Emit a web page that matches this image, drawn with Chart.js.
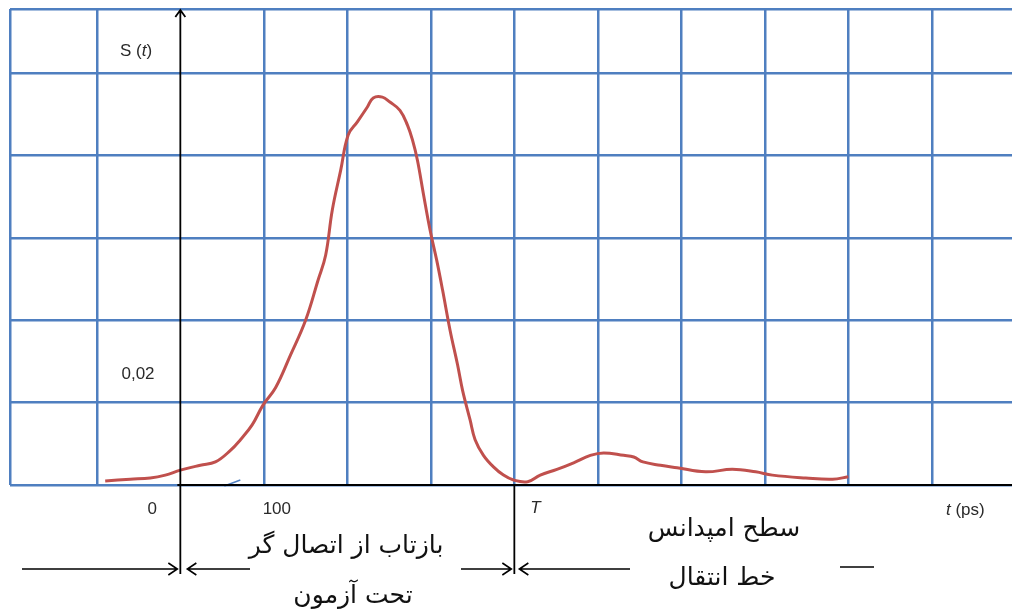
<!DOCTYPE html>
<html>
<head>
<meta charset="utf-8">
<script src="https://cdn.jsdelivr.net/npm/chart.js@4/dist/chart.umd.min.js"></script>
<style>
  html, body { margin: 0; padding: 0; background: #fff; }
  #wrap { width: 1012px; height: 612px; }
</style>
</head>
<body>
<div id="wrap"><canvas id="tdr" width="1012" height="612"></canvas></div>
<script>
// reflected signal S(t), t in ps
const timePs = [-90, -60, -36, -18, 0, 24, 42, 60, 72, 86, 99, 114, 132, 150, 165, 174, 182, 192,
  201, 212, 224, 231, 242, 251, 263, 272, 278, 284, 291, 299, 307, 314, 323, 332, 338, 347, 353,
  363, 375, 387, 399, 416, 431, 451, 471, 491, 507, 531, 543, 554, 575, 595, 629, 661, 689, 709,
  749, 781, 800];
const signal = [0.0005, 0.0007, 0.00085, 0.0012, 0.0018, 0.0024, 0.0028, 0.0042, 0.0055, 0.0073,
  0.0097, 0.0118, 0.0158, 0.0200, 0.0249, 0.0279, 0.0334, 0.0382, 0.0425, 0.0441, 0.0459, 0.0470,
  0.0471, 0.0465, 0.0455, 0.0437, 0.0419, 0.0394, 0.0354, 0.0310, 0.0273, 0.0237, 0.0188, 0.0146,
  0.0115, 0.0079, 0.0055, 0.0036, 0.0022, 0.0012, 0.0006, 0.0004, 0.0012, 0.0019, 0.0027, 0.0036,
  0.0039, 0.0036, 0.0034, 0.0028, 0.0024, 0.0021, 0.0016, 0.0019, 0.0016, 0.0012, 0.00085,
  0.0007, 0.001];

const xGridTicks = [-100, 0, 100, 200, 300, 400, 500, 600, 700, 800, 900];
const yGridTicks = [0, 0.01, 0.02, 0.03, 0.04, 0.05];
const xTickLabels = ["0", "100"];
const yTickLabel = "0,02";
const markT = 400; // ps, end of the connector reflection
const labelLeft = ["بازتاب از اتصال گر", "تحت آزمون"];
const labelRight = ["سطح امپدانس", "خط انتقال"];

const X_MIN = -204, X_MAX = 996, Y_MAX = 0.0578;
const GRID_BLUE = "#4f7fc0";
const LATIN = "17px 'Liberation Sans', Arial, sans-serif";
const LATIN_I = "italic 17px 'Liberation Sans', Arial, sans-serif";

function arrow(ctx, x1, y, x2) {
  // straight line from x1 to x2 with an open head at x2
  const dir = x2 > x1 ? 1 : -1;
  ctx.beginPath();
  ctx.moveTo(x1, y);
  ctx.lineTo(x2, y);
  ctx.moveTo(x2 - dir * 9, y - 6);
  ctx.lineTo(x2, y);
  ctx.lineTo(x2 - dir * 9, y + 6);
  ctx.stroke();
}

// draw a run of [text, font] pieces starting at x
function pieces(ctx, parts, x, y) {
  parts.forEach(([txt, font]) => {
    ctx.font = font;
    ctx.fillText(txt, x, y);
    x += ctx.measureText(txt).width;
  });
}

const overlay = {
  id: "overlay",
  afterDraw(chart) {
    const ctx = chart.ctx;
    const xs = chart.scales.x, ys = chart.scales.y;
    const x0 = xs.getPixelForValue(0);
    const xT = xs.getPixelForValue(markT);
    const yb = ys.getPixelForValue(0);
    ctx.save();

    // small blue stroke near the axis
    ctx.strokeStyle = GRID_BLUE;
    ctx.lineWidth = 1.5;
    ctx.beginPath();
    ctx.moveTo(x0 + 44, yb + 1);
    ctx.lineTo(x0 + 60, yb - 5);
    ctx.stroke();

    ctx.strokeStyle = "#000";
    ctx.lineWidth = 2;
    // time axis
    ctx.beginPath();
    ctx.moveTo(x0 - 3, yb);
    ctx.lineTo(chart.width, yb);
    ctx.stroke();
    // S axis with arrow
    ctx.lineWidth = 1.8;
    ctx.beginPath();
    ctx.moveTo(x0, 574);
    ctx.lineTo(x0, 10);
    ctx.moveTo(x0 - 5, 17);
    ctx.lineTo(x0, 10);
    ctx.lineTo(x0 + 5, 17);
    ctx.stroke();
    // T marker
    ctx.beginPath();
    ctx.moveTo(xT, yb);
    ctx.lineTo(xT, 574);
    ctx.stroke();

    // dimension arrows
    ctx.lineWidth = 1.6;
    const ya = 569;
    arrow(ctx, 22, ya, x0 - 3);
    arrow(ctx, 250, ya, x0 + 7);
    arrow(ctx, 461, ya, xT - 3);
    arrow(ctx, 630, ya, xT + 5);
    ctx.beginPath();
    ctx.moveTo(840, 567);
    ctx.lineTo(874, 567);
    ctx.stroke();

    // latin labels
    ctx.fillStyle = "#2a2a2a";
    ctx.textBaseline = "middle";
    ctx.textAlign = "center";
    ctx.font = LATIN;
    ctx.fillText(xTickLabels[0], x0 - 28, 509);
    ctx.fillText(xTickLabels[1], xs.getPixelForValue(100) + 13, 509);
    ctx.fillText(yTickLabel, 138, ys.getPixelForValue(0.0134));
    ctx.font = LATIN_I;
    ctx.fillText("T", xT + 21, 508);

    ctx.textAlign = "left";
    pieces(ctx, [["S (", LATIN], ["t", LATIN_I], [")", LATIN]], 120, 51);
    pieces(ctx, [["t", LATIN_I], [" (ps)", LATIN]], 946, 510);

    // persian labels
    ctx.fillStyle = "#111";
    ctx.textAlign = "center";
    ctx.direction = "rtl";
    ctx.font = "25px 'DejaVu Sans', sans-serif";
    ctx.fillText(labelLeft[0], 346, 546);
    ctx.fillText(labelLeft[1], 353, 596);
    ctx.fillText(labelRight[0], 724, 529);
    ctx.fillText(labelRight[1], 722, 578);
    ctx.restore();
  }
};

new Chart(document.getElementById("tdr").getContext("2d"), {
  type: "line",
  data: {
    datasets: [{
      data: timePs.map((t, i) => ({ x: t, y: signal[i] })),
      borderColor: "#c0504d",
      borderWidth: 3,
      pointRadius: 0,
      fill: false,
      tension: 0.4
    }]
  },
  options: {
    responsive: false,
    animation: false,
    devicePixelRatio: 1,
    layout: { padding: { left: 10, top: 9, right: 0, bottom: 127 } },
    plugins: { legend: { display: false }, tooltip: { enabled: false } },
    scales: {
      x: {
        type: "linear",
        min: X_MIN,
        max: X_MAX,
        afterBuildTicks: (s) => { s.ticks = [X_MIN, ...xGridTicks].map((v) => ({ value: v })); },
        ticks: { display: false },
        border: { display: false },
        grid: {
          drawTicks: false,
          lineWidth: 2.5,
          color: (c) => (c.tick && c.tick.value === 0 ? "rgba(0,0,0,0)" : GRID_BLUE)
        }
      },
      y: {
        min: 0,
        max: Y_MAX,
        afterBuildTicks: (s) => { s.ticks = [...yGridTicks, Y_MAX].map((v) => ({ value: v })); },
        ticks: { display: false },
        border: { display: false },
        grid: { drawTicks: false, lineWidth: 2.5, color: GRID_BLUE }
      }
    }
  },
  plugins: [overlay]
});
</script>
</body>
</html>
